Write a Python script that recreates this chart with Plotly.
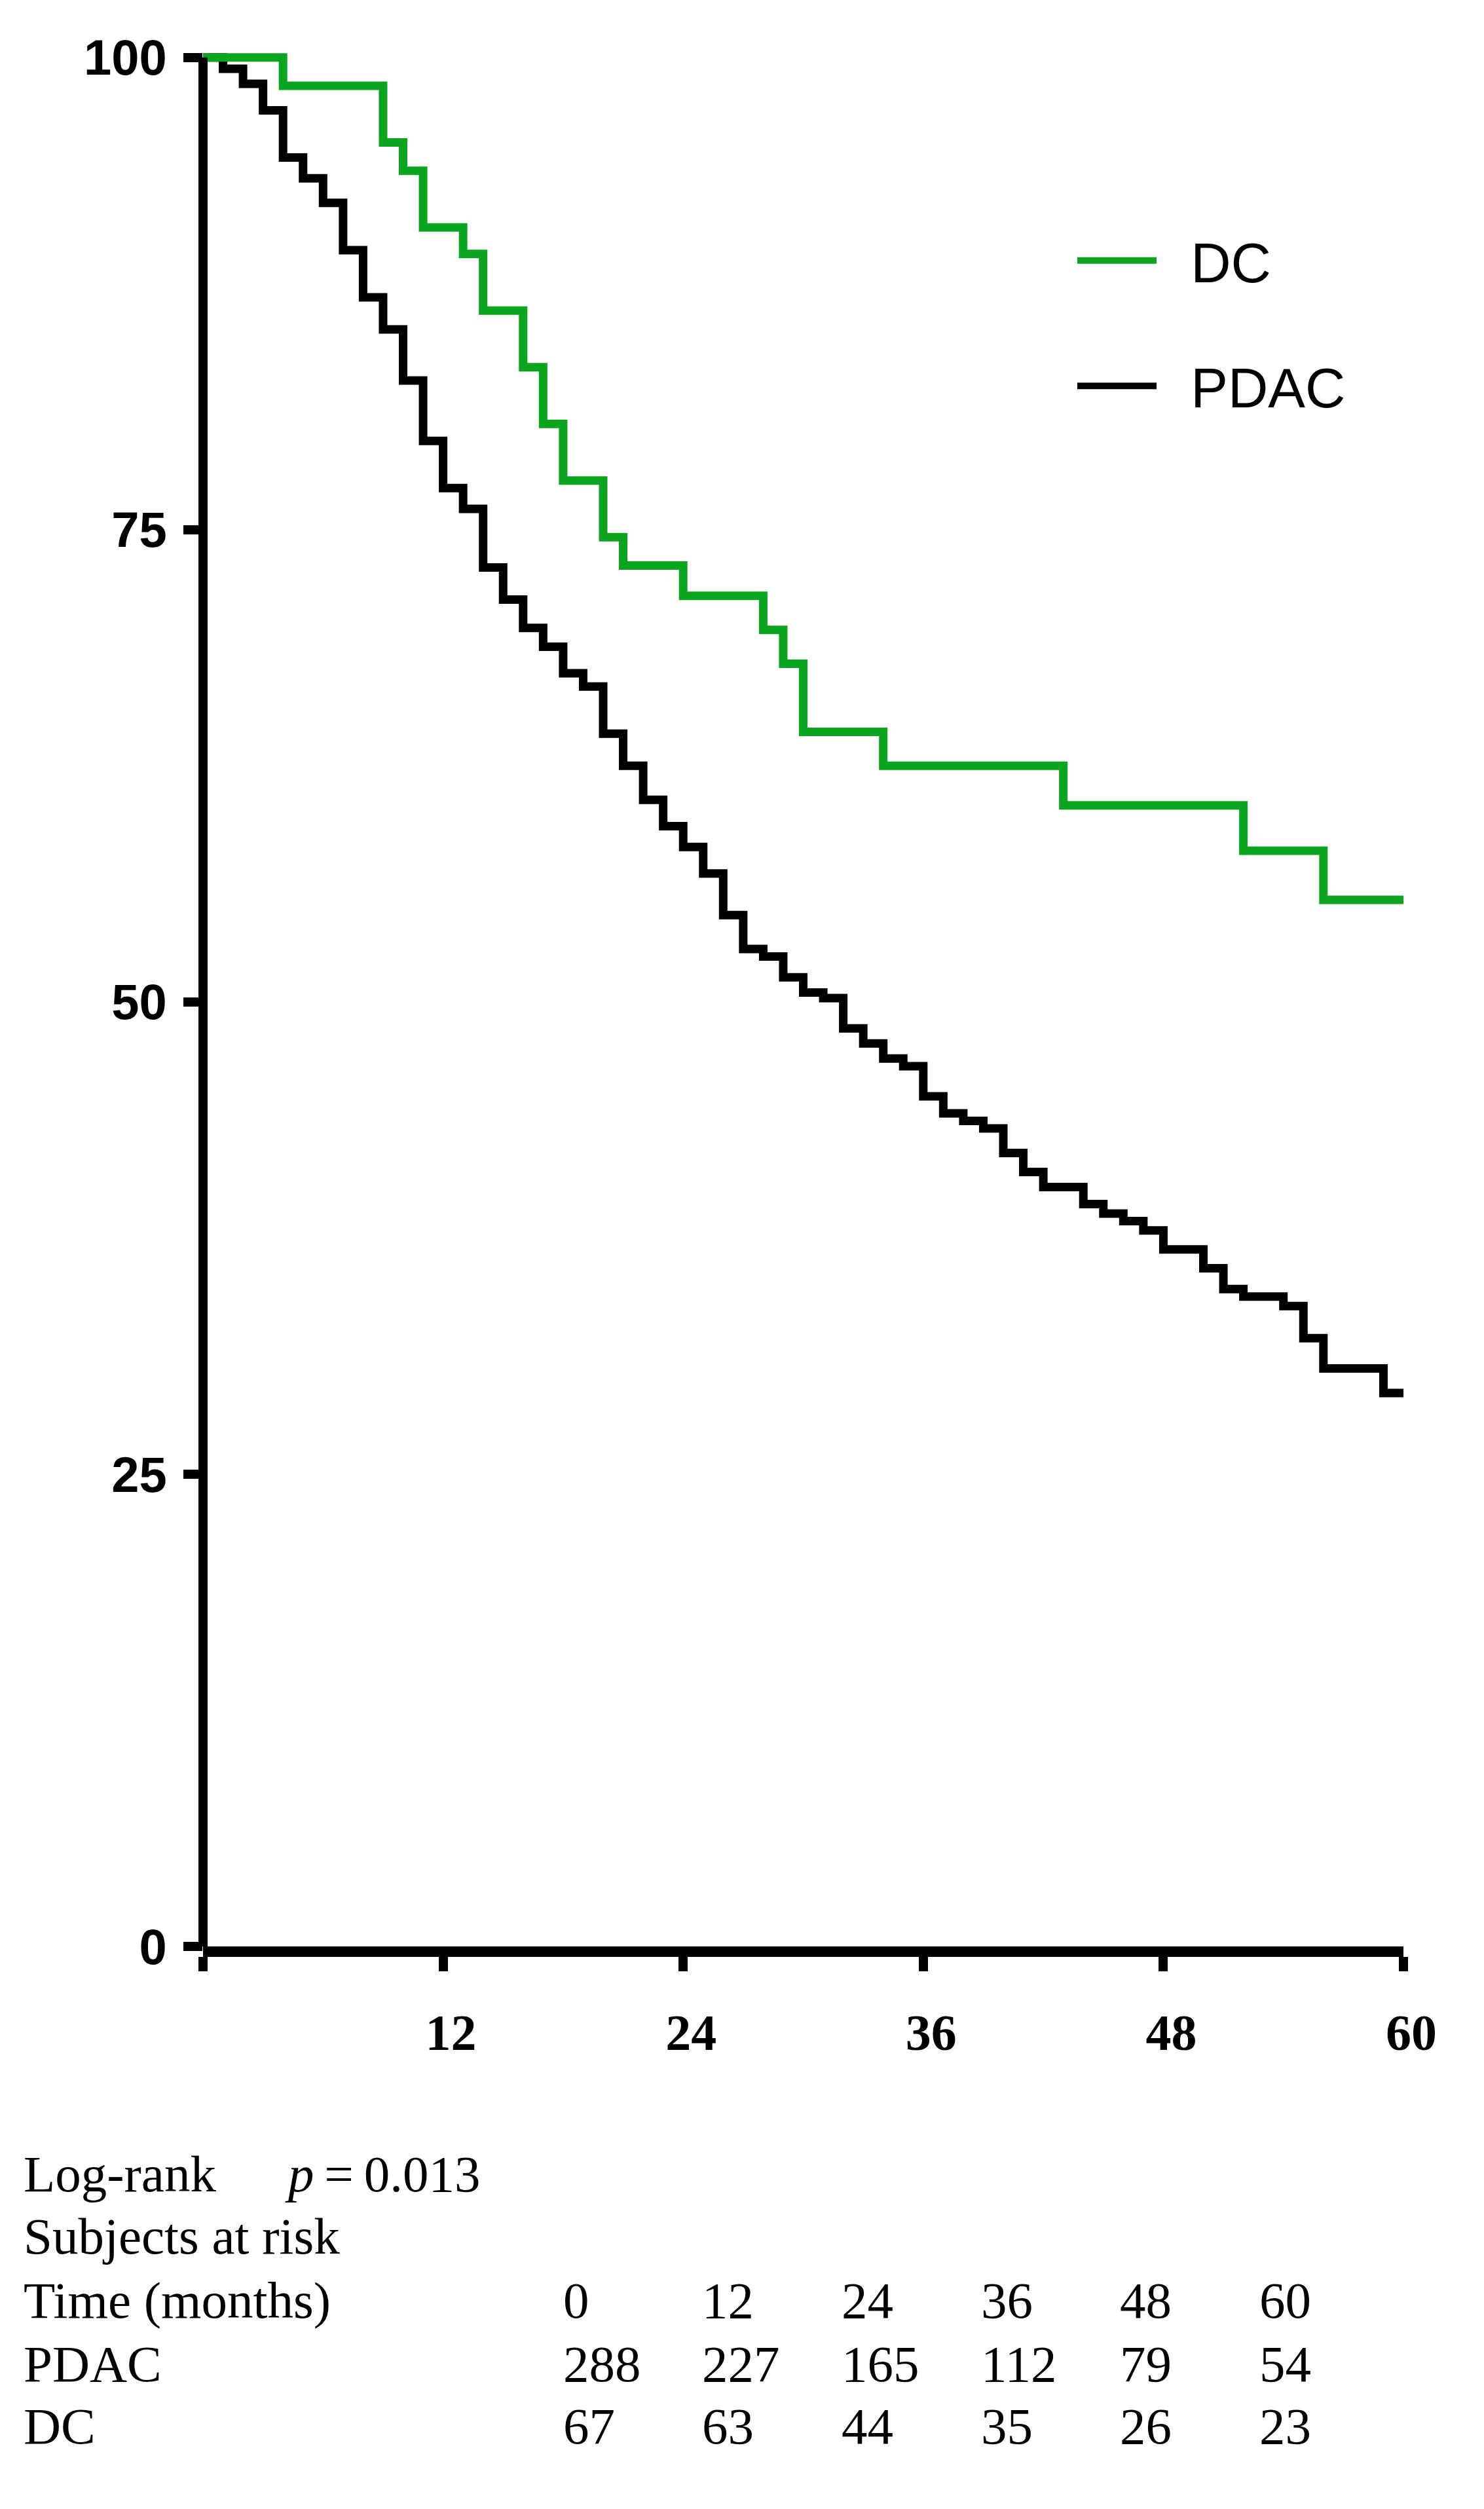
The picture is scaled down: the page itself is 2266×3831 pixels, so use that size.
import plotly.graph_objects as go

# Kaplan-Meier survival (months, % surviving)
DC_MONTHS = [0, 4, 9, 10, 11, 13, 14, 16, 17, 18, 20, 21, 24, 28, 29, 30, 34, 43, 52, 56, 60]
DC_SURVIVAL = [100, 98.5, 95.5, 94.0, 91.0, 89.6, 86.6, 83.6, 80.6, 77.6, 74.6, 73.1,
               71.5, 69.7, 67.9, 64.3, 62.5, 60.4, 58.0, 55.4, 55.4]

PDAC_MONTHS = [0, 1, 2, 3, 4, 5, 6, 7, 8, 9, 10, 11, 12, 13, 14, 15, 16, 17, 18, 19, 20,
               21, 22, 23, 24, 25, 26, 27, 28, 29, 30, 31, 32, 33, 34, 35, 36, 37, 38, 39,
               40, 41, 42, 44, 45, 46, 47, 48, 50, 51, 52, 54, 55, 56, 59, 60]
PDAC_SURVIVAL = [100, 99.4, 98.6, 97.2, 94.7, 93.6, 92.3, 89.8, 87.3, 85.6, 82.9, 79.7,
                 77.2, 76.1, 73.0, 71.3, 69.8, 68.8, 67.4, 66.7, 64.2, 62.5, 60.7, 59.3,
                 58.2, 56.8, 54.6, 52.8, 52.4, 51.3, 50.5, 50.2, 48.6, 47.8, 47.0, 46.6,
                 45.0, 44.1, 43.7, 43.3, 42.0, 41.0, 40.2, 39.3, 38.8, 38.4, 37.9, 36.9,
                 35.9, 34.8, 34.4, 33.9, 32.2, 30.6, 29.3, 29.3]

X_TICKS = [0, 12, 24, 36, 48, 60]
X_TICK_TEXT = ["", "12", "24", "36", "48", "60"]
Y_TICKS = [0, 25, 50, 75, 100]

RISK_TIMES = ["0", "12", "24", "36", "48", "60"]
RISK_PDAC = [288, 227, 165, 112, 79, 54]
RISK_DC = [67, 63, 44, 35, 26, 23]
LOG_RANK_P = "0.013"

GREEN = "#0BA51F"
BLACK = "#000000"

# page is 2266x3831; the html body adds an 8 px margin all round
PAGE_W, PAGE_H = 2266, 3831
BODY = 8
W, H = PAGE_W - 2 * BODY, PAGE_H - 2 * BODY
# plot area edges in figure pixels
PLOT_L, PLOT_R, PLOT_T, PLOT_B = 310 - BODY, 2143 - BODY, 30 - BODY, 2972 - BODY


def px_x(page_x):
    return (page_x - BODY - PLOT_L) / (PLOT_R - PLOT_L)


def px_y(page_y):
    return (PLOT_B - (page_y - BODY)) / (PLOT_B - PLOT_T)


fig = go.Figure()
fig.add_trace(
    go.Scatter(
        x=PDAC_MONTHS, y=PDAC_SURVIVAL, mode="lines", name="\u00a0\u00a0PDAC",
        line=dict(color=BLACK, width=13, shape="hv"),
        legendgroup="pdac", legendrank=2,
    )
)
fig.add_trace(
    go.Scatter(
        x=DC_MONTHS, y=DC_SURVIVAL, mode="lines", name="\u00a0\u00a0DC",
        line=dict(color=GREEN, width=13, shape="hv"),
        legendgroup="dc", legendrank=1,
    )
)

# y axis spine stops at 100, as in the original
fig.add_shape(type="line", xref="paper", yref="y", x0=0, x1=0, y0=0, y1=100,
              line=dict(color=BLACK, width=14))

serif = "Liberation Serif"
text_rows = [3319, 3414, 3512, 3610, 3705]
col_x = [858, 1070, 1283, 1496, 1708, 1921]
annotations = []


def add_text(txt, px, py):
    annotations.append(dict(
        text=txt, x=px_x(px), y=px_y(py), xref="paper", yref="paper",
        xanchor="left", yanchor="middle", showarrow=False,
        font=dict(family=serif, size=79, color=BLACK),
    ))


add_text("Log-rank", 34, text_rows[0])
add_text(f"<i>p</i>\u2009=\u2009{LOG_RANK_P}", 433, text_rows[0])
add_text("Subjects at risk", 34, text_rows[1])
add_text("Time (months)", 34, text_rows[2])
add_text("PDAC", 34, text_rows[3])
add_text("DC", 34, text_rows[4])
for i, cx in enumerate(col_x):
    add_text(RISK_TIMES[i], cx, text_rows[2])
    add_text(str(RISK_PDAC[i]), cx, text_rows[3])
    add_text(str(RISK_DC[i]), cx, text_rows[4])

fig.update_layout(
    width=W,
    height=H,
    margin=dict(l=PLOT_L, r=W - PLOT_R, t=PLOT_T, b=H - PLOT_B, pad=0),
    plot_bgcolor="#FFFFFF",
    paper_bgcolor="#FFFFFF",
    showlegend=True,
    legend=dict(
        x=px_x(1640), y=px_y(336), xanchor="left", yanchor="top",
        font=dict(family="Liberation Sans", size=85, color=BLACK),
        itemwidth=121, tracegroupgap=78, bgcolor="rgba(0,0,0,0)",
    ),
    annotations=annotations,
    xaxis=dict(
        range=[0, 60], tickvals=X_TICKS, ticktext=X_TICK_TEXT,
        showline=True, linewidth=16, linecolor=BLACK,
        ticks="outside", ticklen=22, tickwidth=14, tickcolor=BLACK,
        tickfont=dict(family=serif, size=78, color=BLACK, weight="bold"),
        ticklabelstandoff=26, ticklabelshift=12,
        showgrid=False, zeroline=False,
    ),
    yaxis=dict(
        range=[0, 102], tickvals=Y_TICKS,
        showline=False,
        ticks="outside", ticklen=29, tickwidth=14, tickcolor=BLACK,
        tickfont=dict(family="Liberation Sans", size=76, color=BLACK, weight="bold"),
        ticklabelstandoff=10,
        showgrid=False, zeroline=False,
    ),
)

fig.write_html("out.html")
